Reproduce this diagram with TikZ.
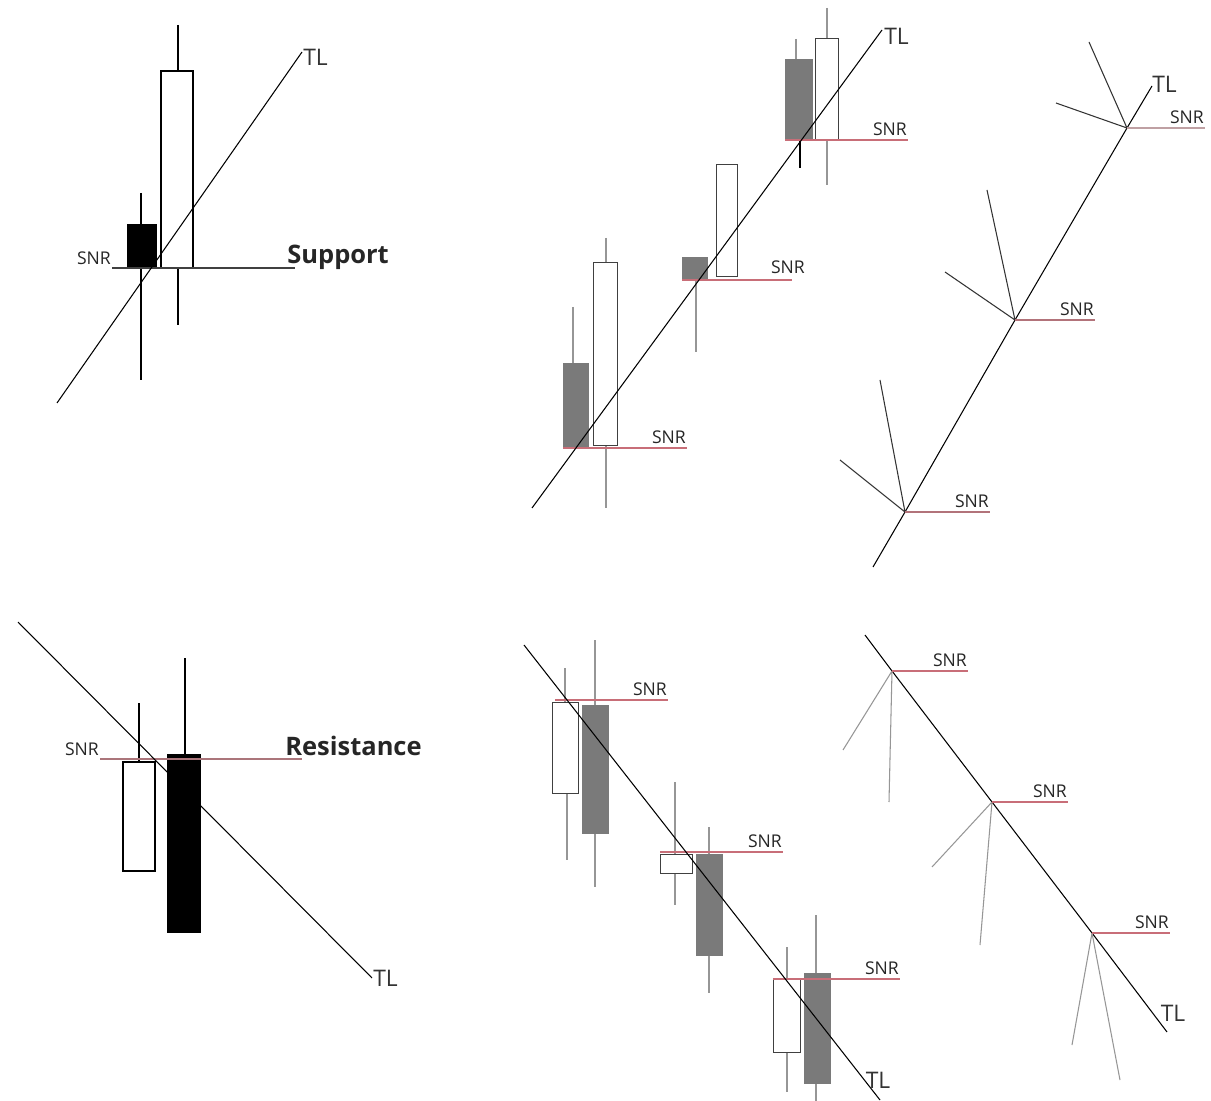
\documentclass[tikz,border=0pt]{standalone}
\usepackage{fontspec}
\setmainfont{Open Sans}
\usetikzlibrary{positioning}

\definecolor{snrred}{RGB}{200,110,120}
\definecolor{bodygray}{RGB}{122,122,122}
\definecolor{wickgray}{RGB}{150,150,150}

\begin{document}
\begin{tikzpicture}[x=0.02cm, y=-0.02cm,
  tl/.style={draw=black, line width=0.6pt},
  snr/.style={draw=snrred, line width=0.7pt},
  wick/.style={draw=black, line width=1.1pt},
  thinwick/.style={draw=wickgray, line width=0.6pt},
  bristle/.style={draw=black!80, line width=0.6pt},
  lightbristle/.style={draw=wickgray, line width=0.6pt},
  bull/.style={draw=black!75, line width=0.5pt, fill=white},
  bear/.style={draw=bodygray, line width=0.4pt, fill=bodygray},
  snrlbl/.style={font=\fontsize{10}{11}\selectfont, inner sep=0.5pt, text=black!85},
  tllbl/.style={font=\fontsize{13}{14}\selectfont, inner sep=0pt, text=black!80},
  biglbl/.style={font=\bfseries\fontsize{14.5}{16}\selectfont, inner sep=0pt, text=black!85}]
\useasboundingbox[fill=white] (0,0) rectangle (1211,1101);

% support, single pair
\draw[wick] (141,193) -- (141,380);
\draw[fill=black, draw=black] (127,224) rectangle (156,268);
\draw[wick] (178,25) -- (178,71);
\draw[wick] (178,268) -- (178,325);
\draw[bull, draw=black, line width=0.8pt] (161,71) rectangle (193,268);
\draw[draw=black!75, line width=0.7pt] (112,268) coordinate (s1a) -- (295,268) coordinate (s1b);
\node[snrlbl, above left=1pt and 0pt of s1a] (snr1) {SNR};
\node[biglbl, anchor=base west] (sup) at (287,264) {Support};
\draw[tl] (57,403) coordinate (t1a) -- (302,52) coordinate (t1b);
\node[tllbl, anchor=west] (tl1) at (303,57) {TL};

% support, rising trend
\draw[thinwick] (573,307) -- (573,363);
\draw[bear] (563,363) rectangle (588,448);
\draw[thinwick] (606,238) -- (606,508);
\draw[bull] (593,262) rectangle (617,445);
\draw[thinwick] (696,279) -- (696,352);
\draw[bear] (682,257) rectangle (707,279);
\draw[bull] (716,164) rectangle (737,276);
\draw[thinwick] (796,39) -- (796,59);
\draw[bear] (785,59) rectangle (812,140);
\draw[wick, line width=0.8pt] (800,140) -- (800,168);
\draw[thinwick] (827,8) -- (827,185);
\draw[bull] (815,38) rectangle (838,140);
\draw[snr] (563,448) -- (687,448) coordinate (s2a);
\draw[snr] (682,280) -- (792,280) coordinate (s2b);
\draw[snr] (785,140) -- (908,140) coordinate (s2c);
\node[snrlbl, above left=2pt and 0pt of s2a] (snr2a) {SNR};
\node[snrlbl, above left=3pt and -8pt of s2b] (snr2b) {SNR};
\node[snrlbl, above left=2pt and 0pt of s2c] (snr2c) {SNR};
\draw[tl] (532,508) -- (882,30) coordinate (t2b);
\node[tllbl, anchor=west] (tl2) at (884,36) {TL};

% support, bare line with pivots
\coordinate (p1) at (905,512);
\coordinate (p2) at (1015,320);
\coordinate (p3) at (1127,128);
\draw[tl] (873,567) -- (p1) -- (p2) -- (p3) -- (1152,86) coordinate (t3b);
\node[tllbl, anchor=west] (tl3) at (1152,84) {TL};
\foreach \p/\a/\b/\c/\d in {p1/-25/-132/-65/-52, p2/-28/-130/-70/-48, p3/-38/-86/-71/-25}
  \draw[bristle] (\p) -- ++(\a,\b) (\p) -- ++(\c,\d);
\draw[snr, draw=snrred!70!gray] (p1) -- ++(85,0) coordinate (s3a);
\draw[snr, draw=snrred!70!gray] (p2) -- ++(80,0) coordinate (s3b);
\draw[snr, draw=snrred!50!gray!70] (p3) -- ++(78,0) coordinate (s3c);
\node[snrlbl, above left=2pt and 0pt of s3a] (snr3a) {SNR};
\node[snrlbl, above left=2pt and 0pt of s3b] (snr3b) {SNR};
\node[snrlbl, above left=2pt and 0pt of s3c] (snr3c) {SNR};

% resistance, single pair
\draw[wick] (139,703) -- (139,762);
\draw[bull, draw=black, line width=0.8pt] (123,762) rectangle (155,871);
\draw[wick, line width=0.7pt] (185,658) -- (185,754);
\draw[fill=black, draw=black] (167,754) rectangle (200,932);
\draw[snr, draw=snrred!60!gray] (100,759) coordinate (s4a) -- (302,759) coordinate (s4b);
\node[snrlbl, above left=1pt and 0pt of s4a] (snr4) {SNR};
\node[biglbl, anchor=base west] (res) at (285,755) {Resistance};
\draw[tl] (18,622) -- (372,978) coordinate (t4b);
\node[tllbl, anchor=west] (tl4) at (373,978) {TL};

% resistance, falling trend
\draw[thinwick] (565,668) -- (565,702);
\draw[thinwick] (567,793) -- (567,860);
\draw[bull] (552,702) rectangle (578,793);
\draw[thinwick] (595,640) -- (595,887);
\draw[bear] (582,705) rectangle (608,833);
\draw[thinwick] (675,782) -- (675,905);
\draw[bull] (660,854) rectangle (692,873);
\draw[thinwick] (709,827) -- (709,993);
\draw[bear] (696,854) rectangle (722,955);
\draw[thinwick] (787,947) -- (787,1092);
\draw[bull] (773,979) rectangle (800,1052);
\draw[thinwick] (816,915) -- (816,1101);
\draw[bear] (804,973) rectangle (830,1083);
\draw[snr] (555,700) -- (668,700) coordinate (s5a);
\draw[snr] (660,852) -- (783,852) coordinate (s5b);
\draw[snr] (773,979) -- (900,979) coordinate (s5c);
\node[snrlbl, above left=2pt and 0pt of s5a] (snr5a) {SNR};
\node[snrlbl, above left=2pt and 0pt of s5b] (snr5b) {SNR};
\node[snrlbl, above left=2pt and 0pt of s5c] (snr5c) {SNR};
\draw[tl] (524,645) -- (880,1100) coordinate (t5b);
\node[tllbl] (tl5) at (878,1080) {TL};

% resistance, bare line with pivots
\coordinate (q1) at (892,671);
\coordinate (q2) at (992,802);
\coordinate (q3) at (1092,933);
\draw[tl] (865,635) -- (q1) -- (q2) -- (q3) -- (1167,1032) coordinate (t6b);
\node[tllbl] (tl6) at (1173,1013) {TL};
\foreach \p/\a/\b/\c/\d in {q1/-49/79/-3/131, q2/-60/65/-12/143, q3/-20/112/28/147}
  \draw[lightbristle] (\p) -- ++(\a,\b) (\p) -- ++(\c,\d);
\draw[snr] (q1) -- ++(76,0) coordinate (s6a);
\draw[snr] (q2) -- ++(76,0) coordinate (s6b);
\draw[snr] (q3) -- ++(78,0) coordinate (s6c);
\node[snrlbl, above left=2pt and 0pt of s6a] (snr6a) {SNR};
\node[snrlbl, above left=2pt and 0pt of s6b] (snr6b) {SNR};
\node[snrlbl, above left=2pt and 0pt of s6c] (snr6c) {SNR};
\end{tikzpicture}
\end{document}
